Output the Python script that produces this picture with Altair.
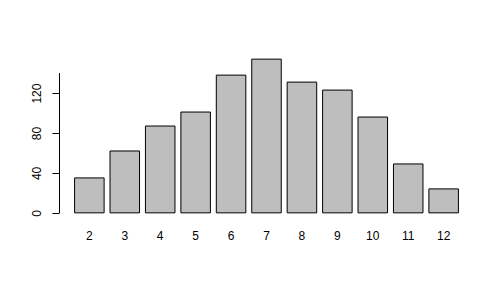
import altair as alt
import pandas as pd

sums = ["2", "3", "4", "5", "6", "7", "8", "9", "10", "11", "12"]
counts = [35, 62, 87, 101, 138, 154, 131, 123, 96, 49, 24]

df = pd.DataFrame({"sum": sums, "count": counts})

yscale = alt.Scale(domain=[-6.16, 160.16], nice=False, zero=False)

bars = alt.Chart(df).mark_bar(
    fill="#BEBEBE", stroke="black", strokeWidth=1
).encode(
    x=alt.X("sum:N", sort=sums,
            scale=alt.Scale(paddingInner=1/6, paddingOuter=0.44),
            axis=alt.Axis(title=None, domain=False, ticks=False, labelAngle=0,
                          labelFont="Liberation Sans", labelFontSize=12,
                          labelColor="black", labelPadding=11)),
    y=alt.Y("count:Q", scale=yscale,
            axis=alt.Axis(title=None, domain=False, grid=False,
                          values=[0, 20, 40, 60, 80, 100, 120, 140],
                          labelExpr="datum.value % 40 == 0 ? datum.label : ''",
                          tickSize=7, tickColor="black", tickWidth=1,
                          labelAngle=270, labelAlign="center", labelBaseline="bottom",
                          labelFont="Liberation Sans", labelFontSize=12,
                          labelColor="black", labelPadding=9)),
    y2=alt.datum(0),
)

axis_line = alt.Chart(df).mark_rule(color="black", strokeWidth=1).encode(
    x=alt.value(0.5),
    y=alt.datum(0),
    y2=alt.datum(140),
)

chart = alt.layer(bars, axis_line).properties(
    width=415, height=166,
    autosize=alt.AutoSizeParams(type="none"),
    padding={"left": 59, "top": 53, "right": 30, "bottom": 69},
    background="white",
).configure_view(stroke=None)

chart.save("out.html", embed_options={"renderer": "svg", "actions": False})
